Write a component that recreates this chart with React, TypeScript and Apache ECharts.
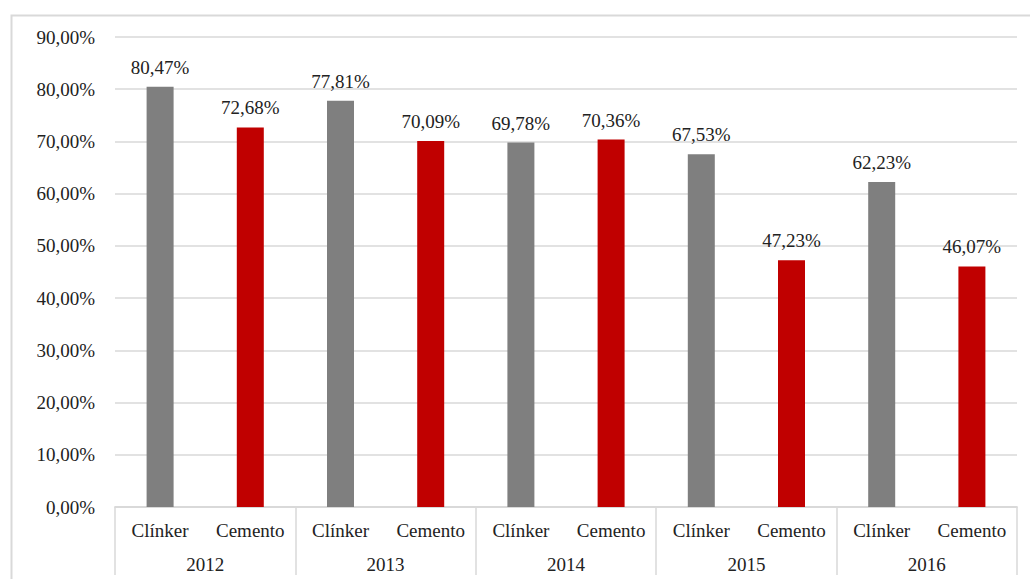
import React, { useEffect, useRef } from "react";
import * as echarts from "echarts";

const years = ["2012", "2013", "2014", "2015", "2016"];
const seriesNames = ["Clínker", "Cemento"];
const clinker = [80.47, 77.81, 69.78, 67.53, 62.23];
const cemento = [72.68, 70.09, 70.36, 47.23, 46.07];
const colors = ["#7f7f7f", "#c00000"];

const fmt = (v: number) => v.toFixed(2).replace(".", ",") + "%";

export default function App() {
  const ref = useRef<HTMLDivElement>(null);
  useEffect(() => {
    if (!ref.current) return;
    const chart = echarts.init(ref.current, null, { renderer: "svg" });
    const cats: string[] = [];
    const data: any[] = [];
    years.forEach((_, i) => {
      cats.push(seriesNames[0]);
      data.push({ value: clinker[i], itemStyle: { color: colors[0] } });
      cats.push(seriesNames[1]);
      data.push({ value: cemento[i], itemStyle: { color: colors[1] } });
    });
    const font = "Times New Roman, serif";
    const fs = 19;
    chart.setOption({
      animation: false,
      backgroundColor: "#ffffff",
      textStyle: { fontFamily: font },
      graphic: [
        {
          type: "rect",
          left: 9,
          top: 13,
          shape: { width: 1060, height: 620 },
          style: { fill: "none", stroke: "#d9d9d9", lineWidth: 2 },
          silent: true,
          z: -10,
        },
      ],
      grid: { left: 115, right: 13, top: 37, bottom: 72 },
      xAxis: [
        {
          type: "category",
          data: cats,
          position: "bottom",
          axisLine: { show: true, lineStyle: { color: "#d9d9d9", width: 1.5 } },
          axisTick: { show: false },
          axisLabel: {
            interval: 0,
            margin: 14,
            fontSize: fs,
            color: "#222",
            fontFamily: font,
          },
        },
        {
          type: "category",
          data: years,
          position: "bottom",
          axisLine: { show: true, lineStyle: { color: "#d9d9d9", width: 1.5 } },
          axisTick: {
            show: true,
            interval: 0,
            length: 68,
            lineStyle: { color: "#d9d9d9", width: 1.5 },
          },
          axisLabel: {
            interval: 0,
            margin: 48,
            fontSize: fs,
            color: "#222",
            fontFamily: font,
          },
        },
      ],
      yAxis: {
        type: "value",
        min: 0,
        max: 90,
        interval: 10,
        axisLine: { show: false },
        axisTick: { show: false },
        splitLine: { lineStyle: { color: "#d9d9d9", width: 1.5 } },
        axisLabel: {
          formatter: (v: number) => fmt(v),
          margin: 20,
          fontSize: fs,
          color: "#222",
          fontFamily: font,
        },
      },
      series: [
        {
          type: "bar",
          xAxisIndex: 0,
          barWidth: 27,
          data,
          label: {
            show: true,
            position: "top",
            distance: 10,
            formatter: (p: any) => fmt(p.value),
            fontSize: fs,
            color: "#222",
            fontFamily: font,
          },
        },
      ],
    });
    return () => chart.dispose();
  }, []);
  return (
    <div
      ref={ref}
      style={{ position: "fixed", left: 0, top: 0, width: 1030, height: 579 }}
    />
  );
}
